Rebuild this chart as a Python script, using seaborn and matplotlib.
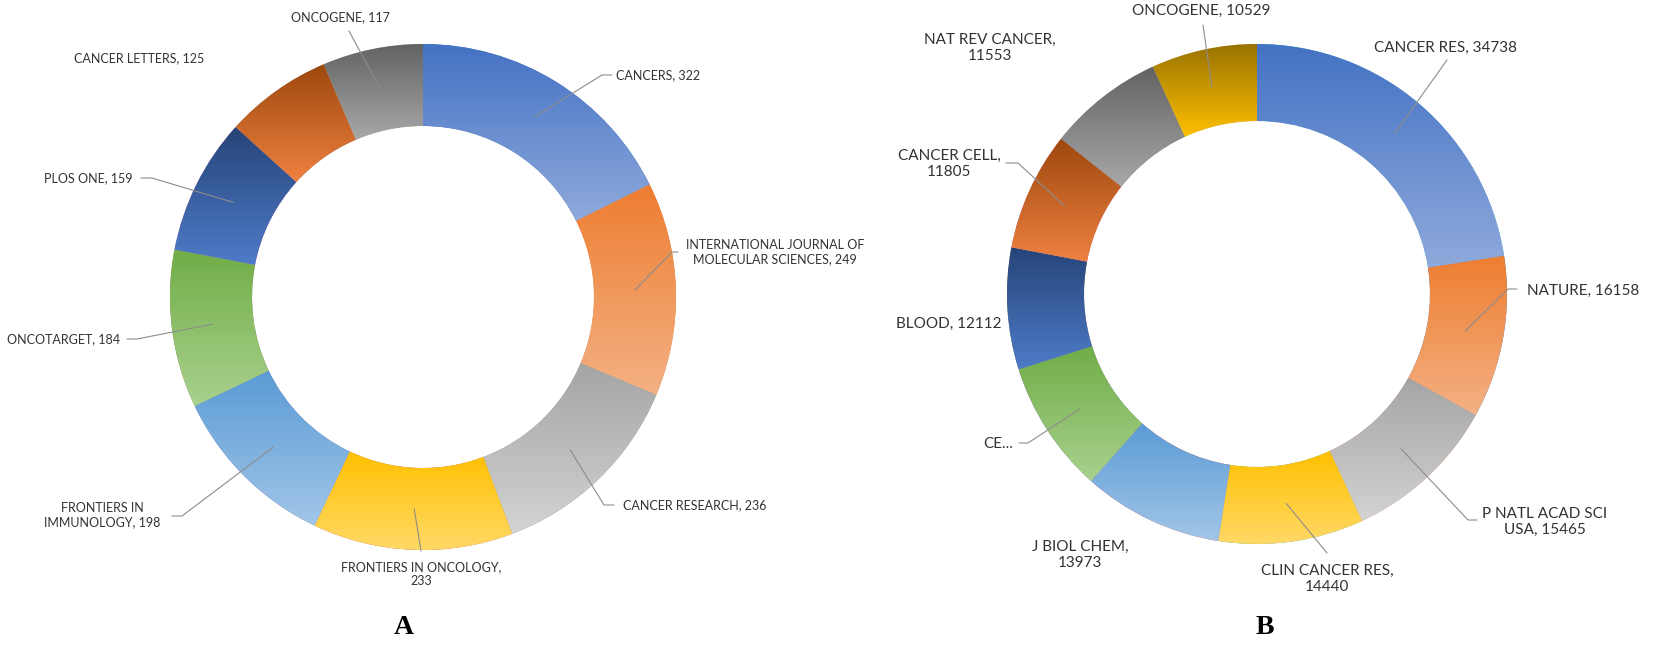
import numpy as np
import matplotlib
matplotlib.use("Agg")
import matplotlib.pyplot as plt
import seaborn as sns

W, H = 1654, 650

# A: journals with the most publications
journals_a = ["CANCERS", "INTERNATIONAL JOURNAL OF\nMOLECULAR SCIENCES", "CANCER RESEARCH",
              "FRONTIERS IN ONCOLOGY", "FRONTIERS IN\nIMMUNOLOGY", "ONCOTARGET", "PLOS ONE",
              "CANCER LETTERS", "ONCOGENE"]
counts_a = [322, 249, 236, 233, 198, 184, 159, 125, 117]
wrap_a = [False, False, False, True, False, False, False, False, False]

# B: most co-cited journals (the CELL slice label is cut to "CE..." in the source)
journals_b = ["CANCER RES", "NATURE", "P NATL ACAD SCI\nUSA", "CLIN CANCER RES", "J BIOL CHEM",
              "CELL", "BLOOD", "CANCER CELL", "NAT REV CANCER", "ONCOGENE"]
citations_b = [34738, 16158, 15465, 14440, 13973, 13200, 12112, 11805, 11553, 10529]
wrap_b = [False, False, False, True, True, False, False, True, True, False]
cut_b = {5: "CE..."}

# office-style gradient, top of slice -> bottom of slice
tops = ["#4472C4", "#ED7D31", "#A5A5A5", "#FFC000", "#5B9BD5", "#70AD47",
        "#264478", "#9E480E", "#636363", "#997300"]
bottoms = ["#8FAADC", "#F4B183", "#D3D3D3", "#FFD966", "#A2C6E8", "#A9D18E",
           "#4E7BC8", "#EE8140", "#A8A8A8", "#FFC000"]

# label layout in pixels: text centre, leader (start x, start y, elbow x or None)
spots_a = [(658, 75), (775, 252), (695, 505), (421, 574), (102, 515),
           (64, 339), (88, 178), (139, 58), (340, 17)]
leaders_a = [(612, 75, 602), (678, 252, 672), (614, 505, 604), (421, 551, None),
             (172, 516, 182), (127, 339, 137), (141, 178, 152), None, (349, 31, None)]
spots_b = [(1446, 48), (1583, 291), (1545, 522), (1327, 579), (1080, 555),
           (998, 444), (949, 324), (949, 164), (990, 48), (1201, 11)]
leaders_b = [(1447, 60, None), (1517, 289, 1508), (1477, 520, 1468), (1327, 553, None), None,
             (1019, 443, 1028), None, (1006, 163, 1018), None, (1203, 25, None)]


def make_labels(names, values, wraps, cuts=None):
    out = []
    for i, (n, v, wr) in enumerate(zip(names, values, wraps)):
        if cuts and i in cuts:
            out.append(cuts[i])
        else:
            out.append(f"{n},{chr(10) if wr else ' '}{v}")
    return out


def donut(ax, values, center, radius, ring):
    cx, cy = center
    wedges, _ = ax.pie(values, radius=radius, center=(cx, H - cy), startangle=90,
                       counterclock=False, wedgeprops=dict(width=ring, linewidth=0))
    for w, top, bottom in zip(wedges, tops, bottoms):
        bb = w.get_path().get_extents()
        ramp = np.array(sns.blend_palette([bottom, top], n_colors=200))[:, None, :]
        im = ax.imshow(ramp, extent=(bb.x0, bb.x1, bb.y0, bb.y1), origin="lower",
                       aspect="auto", interpolation="bilinear", zorder=2)
        im.set_clip_path(w)
    return wedges


def label_slices(ax, wedges, texts, spots, leaders, size, center, radius, ring):
    cx, cy = center
    for w, txt, (tx, ty), lead in zip(wedges, texts, spots, leaders):
        ax.text(tx, H - ty, txt, ha="center", va="center", fontsize=size,
                color="#333333", linespacing=1.25, zorder=4)
        if lead is None:
            continue
        mid = np.deg2rad((w.theta1 + w.theta2) / 2)
        r = radius - ring / 2
        px, py = cx + r * np.cos(mid), (H - cy) + r * np.sin(mid)
        sx, sy, ex = lead
        xs, ys = [sx], [H - sy]
        if ex is not None:
            xs.append(ex)
            ys.append(H - sy)
        xs.append(px)
        ys.append(py)
        ax.plot(xs, ys, color="#8C8C8C", lw=0.8, zorder=3)


sns.set_theme(style="white")
plt.rcParams["font.family"] = ["Lato", "DejaVu Sans"]

fig = plt.figure(figsize=(W / 100, H / 100), dpi=100)
ax = fig.add_axes([0, 0, 1, 1])

center_a, r_a, ring_a = (423, 297), 253, 82
center_b, r_b, ring_b = (1257, 294), 250, 77

wa = donut(ax, counts_a, center_a, r_a, ring_a)
wb = donut(ax, citations_b, center_b, r_b, ring_b)

label_slices(ax, wa, make_labels(journals_a, counts_a, wrap_a), spots_a, leaders_a,
             9, center_a, r_a, ring_a)
label_slices(ax, wb, make_labels(journals_b, citations_b, wrap_b, cut_b), spots_b, leaders_b,
             11, center_b, r_b, ring_b)

for letter, x in [("A", 404), ("B", 1265)]:
    ax.text(x, H - 628, letter, ha="center", va="center", fontsize=20, weight="bold",
            family=["Liberation Serif", "DejaVu Serif"], color="black")

ax.set_xlim(0, W)
ax.set_ylim(0, H)
ax.axis("off")

fig.savefig("out.png", dpi=100)
